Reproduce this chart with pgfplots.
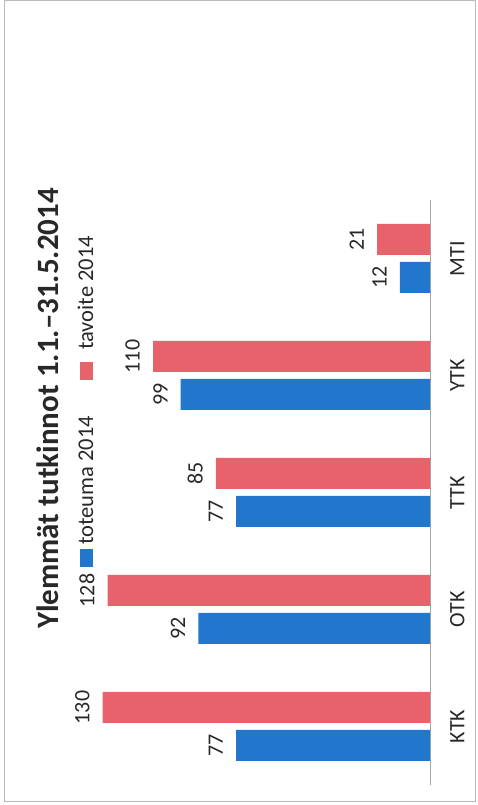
\documentclass[border=0pt]{standalone}
\usepackage{pgfplots}
\pgfplotsset{compat=1.18}
\usepackage{fontspec}
\setmainfont{Carlito}
\definecolor{tred}{RGB}{232,98,108}
\definecolor{tblue}{RGB}{34,118,204}
\definecolor{ttext}{RGB}{40,40,40}
\begin{document}
\begin{tikzpicture}
\begin{axis}[
  at={(241.15pt,312.5pt)}, anchor=center,
  scale only axis,
  width=377.7pt, height=585pt,
  xbar, bar width=31pt,
  x dir=reverse,
  xmin=0, xmax=150,
  ymin=-0.5, ymax=4.5,
  enlargelimits=false,
  axis x line=none,
  axis y line=right,
  y axis line style={-, draw=gray!70, line width=0.9pt},
  ytick={0,1,2,3,4},
  yticklabels={KTK,OTK,TTK,YTK,MTI},
  major tick length=0pt,
  yticklabel style={rotate=90, anchor=north, inner sep=0pt, font=\fontsize{22}{26}\selectfont, text=ttext},
  yticklabel shift=20pt,
  /pgf/number format/assume math mode=true,
  nodes near coords,
  every node near coord/.append style={rotate=90, anchor=south, inner sep=0pt, inner ysep=13pt, font=\fontsize{22}{26}\selectfont, text=ttext},
  clip=false,
]
\addplot[fill=tblue, draw=none, bar shift=-19pt] coordinates {(77,0) (92,1) (77,2) (99,3) (12,4)};
\addplot[fill=tred, draw=none, bar shift=19pt] coordinates {(130,0) (128,1) (85,2) (110,3) (21,4)};
\end{axis}
\node[rotate=90, anchor=base, inner sep=0pt, text=ttext, font=\fontsize{31}{36}\selectfont\bfseries] at (58pt,396.5pt) {Ylemmät tutkinnot 1.1.–31.5.2014};
\node[rotate=90, anchor=base west, inner sep=0pt, text=ttext, font=\fontsize{22.5}{26}\selectfont] at (93pt,238pt) {\textcolor{tblue}{\rule{18pt}{13pt}}\hspace{4pt}toteuma 2014\hspace{36pt}\textcolor{tred}{\rule{18pt}{13pt}}\hspace{12pt}tavoite 2014};
\draw[gray!55, line width=1pt] (4pt,3pt) rectangle (475.5pt,804pt);
\pgfresetboundingbox
\useasboundingbox (0,0) rectangle (477pt,805pt);
\end{tikzpicture}
\end{document}
